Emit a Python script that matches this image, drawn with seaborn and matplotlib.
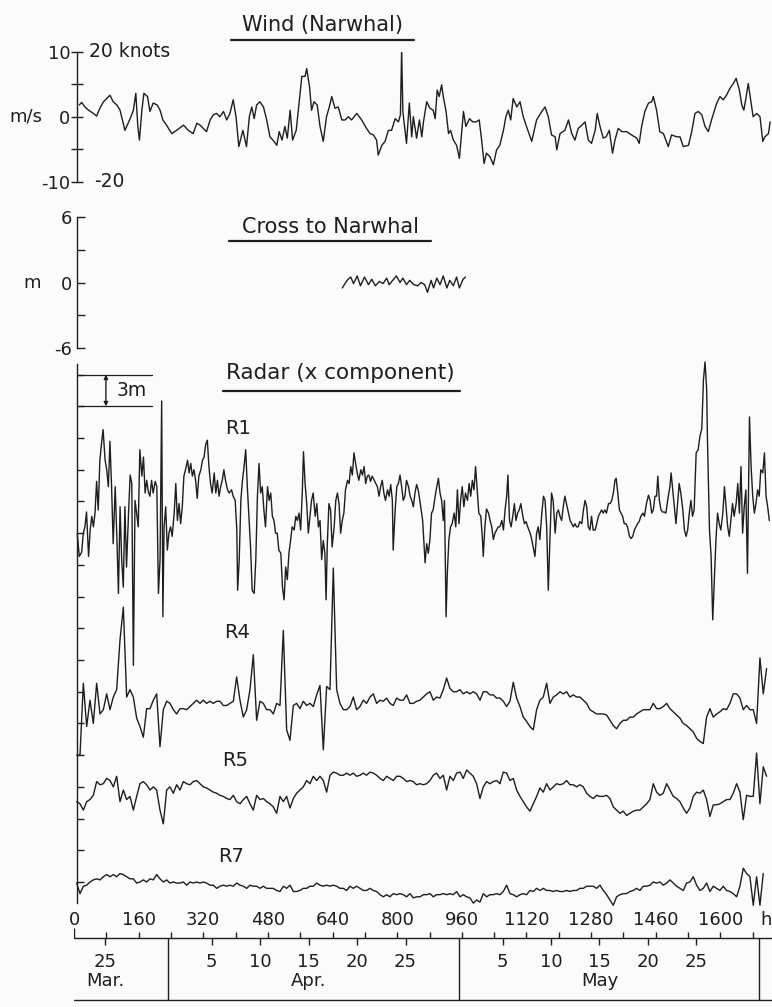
import numpy as np
import matplotlib
matplotlib.use("Agg")
import matplotlib.pyplot as plt
import seaborn as sns
from matplotlib.lines import Line2D

sns.set_style("white")
plt.rcParams['font.family'] = ['DejaVu Sans']

# ---------------- data (hours since start, values) ----------------
# Wind (Narwhal), m/s : (hour, value)
WIND = [(13,1.8),(19,2.2),(27,1.5),(36,1.0),(48,0.5),(56,0.1),(64,1.3),(73,2.3),(81,2.8),(89,3.3),
        (97,2.3),(106,1.8),(114,1.0),(126,-2.1),(139,-0.3),(147,1.0),(153,3.6),(158,-1.5),(162,-3.6),
        (168,1.0),(173,3.6),(182,3.1),(188,0.8),(196,2.1),(206,1.8),(213,1.0),(220,-0.5),(229,-1.3),
        (242,-2.6),(254,-2.1),(271,-1.3),(283,-2.1),(295,-2.6),(304,-1.0),(312,-1.3),(320,-1.8),
        (328,-2.3),(337,-0.5),(345,0.3),(353,0.5),(361,0.0),(370,0.8),(378,-0.5),(386,0.5),(394,2.6),
        (401,0.0),(408,-4.6),(418,-2.1),(427,-4.6),(434,0.0),(440,1.5),(446,-0.3),(452,1.8),(460,2.3),
        (469,1.5),(477,-0.5),(485,-3.1),(495,-3.8),(502,-4.4),(508,-2.3),(515,-3.6),(522,-1.5),
        (528,-3.3),(535,1.0),(541,-3.6),(550,-2.1),(558,2.6),(564,6.2),(572,6.2),(576,7.4),(583,4.6),
        (588,1.0),(594,2.3),(602,1.8),(609,-1.5),(617,-3.8),(625,0.0),(632,1.5),(638,3.1),(646,1.3),
        (654,1.5),(663,-0.5),(671,-0.5),(679,0.0),(687,-0.5),(700,0.5),(712,-0.5),(724,-1.8),
        (733,-2.6),(741,-2.8),(749,-3.6),(753,-5.9),(762,-4.4),(770,-3.8),(778,-2.1),(786,-2.1),
        (795,-0.3),(803,-0.8),(808,0.3),(811,10.3),(814,0.8),(823,-4.1),(830,2.1),(836,-3.1),
        (840,0.0),(848,-3.3),(855,-0.5),(861,-3.1),(865,-0.8),(873,2.3),(881,1.3),(889,1.0),
        (894,-0.3),(899,4.1),(904,3.1),(910,4.9),(914,3.1),(921,0.8),(927,-2.6),(932,-2.1),
        (939,-3.6),(947,-4.4),(954,-6.4),(960,-2.1),(964,0.8),(970,-1.5),(979,-0.3),(987,-0.8),
        (995,-0.8),(1003,-0.5),(1009,-3.6),(1015,-7.2),(1021,-5.6),(1030,-6.2),(1038,-7.4),
        (1046,-5.1),(1054,-4.4),(1063,-2.1),(1069,0.0),(1075,1.0),(1081,-0.5),(1087,2.8),(1096,1.5),
        (1104,2.3),(1112,0.0),(1120,-1.5),(1133,-3.8),(1145,-0.5),(1158,0.8),(1166,1.5),(1174,0.0),
        (1182,-2.8),(1191,-3.1),(1195,-5.1),(1203,-2.6),(1215,-2.1),(1224,-0.5),(1232,-2.6),
        (1240,-3.6),(1248,-1.8),(1257,-1.3),(1265,-0.8),(1273,-3.6),(1281,-4.1),(1290,-2.1),
        (1295,0.5),(1302,-1.5),(1310,-3.3),(1317,-3.1),(1325,-2.1),(1333,-5.6),(1339,-3.6),
        (1347,-1.8),(1356,-2.3),(1368,-2.3),(1380,-2.8),(1393,-3.3),(1399,-4.1),(1405,-1.5),
        (1413,0.8),(1422,2.1),(1430,2.3),(1434,3.1),(1442,1.0),(1450,-2.3),(1459,-2.6),(1471,-4.6),
        (1479,-2.8),(1492,-3.1),(1500,-3.1),(1508,-4.6),(1521,-4.4),(1529,-2.3),(1537,0.5),
        (1545,0.8),(1554,0.3),(1562,-1.5),(1570,-2.3),(1578,-0.5),(1591,2.1),(1599,3.1),(1607,2.6),
        (1615,3.3),(1624,4.4),(1632,5.1),(1639,5.9),(1647,4.1),(1653,1.8),(1658,1.0),(1663,2.8),
        (1669,5.1),(1675,2.6),(1681,0.0),(1690,0.5),(1698,0.0),(1705,-3.8),(1710,-3.1),(1719,-2.6),
        (1723,-0.8)]

# Cross to Narwhal, m : (hour, value)
CROSS = [(664,-0.5),(676,0.2),(685,0.5),(692,-0.1),(701,0.6),(709,-0.3),(719,0.5),(729,-0.2),
         (737,0.3),(746,-0.3),(756,0.1),(765,-0.1),(774,0.4),(780,-0.2),(789,0.2),(798,0.6),
         (807,0.0),(814,0.4),(823,-0.2),(831,0.2),(841,-0.2),(851,-0.3),(859,0.0),(868,-0.2),
         (875,-0.9),(884,0.2),(890,-0.5),(898,0.4),(906,-0.2),(914,0.6),(923,-0.5),(930,0.2),
         (939,-0.3),(947,0.5),(954,-0.5),(963,0.3),(969,0.5)]

# Radar R1, m : (hour, value)
R1 = [(8,-3.0),(13,-5.2),(19,-4.8),(23,-3.0),(27,-2.4),(31,-1.0),(36,-5.2),(40,-2.7),(44,-1.4),
      (48,-2.4),(52,-1.1),(56,1.9),(60,-0.8),(64,3.9),(69,5.8),(72,6.8),(77,3.9),(81,3.0),(85,1.4),
      (89,5.7),(93,1.4),(97,-4.0),(102,1.4),(106,-3.3),(110,-8.7),(114,-0.5),(118,-5.5),(122,-8.1),
      (126,-0.5),(130,-6.2),(135,-1.1),(139,2.5),(143,1.7),(147,-15.5),(151,0.1),(155,-1.1),
      (159,-2.4),(163,4.9),(168,2.4),(172,4.2),(176,0.8),(180,2.0),(184,0.9),(188,0.5),(192,2.0),
      (196,0.8),(201,1.9),(205,1.4),(209,-8.7),(213,-5.5),(217,9.5),(220,-10.9),(223,-2.4),
      (227,-0.5),(231,-4.6),(235,-3.0),(239,-2.4),(243,-3.3),(248,-1.1),(252,1.7),(256,-1.8),
      (260,-0.2),(264,-2.1),(268,-0.5),(272,2.4),(276,3.0),(281,3.9),(285,2.7),(289,3.6),(293,2.4),
      (297,3.0),(301,2.0),(305,0.3),(309,2.4),(314,3.0),(318,3.9),(322,4.2),(326,5.4),(330,5.8),
      (334,3.3),(338,1.7),(342,0.8),(347,2.7),(351,0.8),(355,2.0),(359,0.5),(363,1.4),(367,2.0),
      (371,3.0),(375,2.0),(380,1.1),(384,0.8),(390,1.1),(394,0.5),(399,0.1),(403,-2.7),(405,-8.4),
      (409,-5.5),(413,0.1),(417,2.0),(421,3.3),(425,4.9),(429,1.4),(433,-1.4),(437,-4.3),(441,-8.4),
      (446,-8.7),(450,-5.5),(454,0.5),(458,3.6),(462,0.8),(466,1.4),(470,-0.8),(474,-2.4),(479,1.4),
      (483,0.1),(487,0.8),(491,-1.4),(495,-1.8),(499,-3.0),(503,-3.0),(507,-4.6),(512,-4.9),
      (516,-8.1),(520,-9.3),(524,-6.2),(528,-7.4),(532,-4.9),(536,-3.7),(540,-2.4),(545,-2.7),
      (549,-1.4),(553,-1.8),(557,-1.1),(561,-2.7),(565,0.8),(568,4.7),(572,1.7),(576,-0.2),
      (580,-3.0),(584,-1.4),(588,0.1),(592,0.8),(597,-1.4),(601,-0.2),(605,-2.4),(609,-1.8),
      (613,-5.5),(617,-3.7),(621,-4.9),(624,-9.3),(627,-4.0),(631,-0.2),(635,-0.8),(639,-4.3),
      (644,-2.4),(648,0.1),(652,0.8),(656,-0.2),(660,-3.0),(664,-1.8),(668,-1.1),(672,1.1),
      (677,2.0),(681,1.7),(685,3.3),(689,2.5),(693,4.6),(697,3.6),(701,2.7),(705,2.0),(710,3.0),
      (714,2.5),(718,3.3),(722,1.7),(726,2.4),(730,2.5),(734,1.9),(738,2.4),(743,2.0),(747,1.7),
      (751,1.4),(755,0.5),(759,1.4),(763,2.0),(767,0.8),(771,0.1),(776,1.1),(780,0.5),(784,1.6),
      (788,0.1),(790,-4.6),(795,-0.8),(799,1.4),(803,1.7),(807,2.5),(811,1.4),(815,0.1),(819,0.5),
      (823,2.0),(828,1.4),(832,0.5),(836,0.1),(840,-0.5),(844,0.8),(848,1.6),(852,1.1),(856,0.1),
      (863,-1.8),(869,-5.8),(873,-4.0),(877,-4.9),(881,-3.6),(885,-1.1),(889,-0.8),(894,0.5),
      (898,1.4),(902,2.2),(906,0.8),(910,0.1),(914,-1.8),(917,0.1),(921,-10.9),(924,-6.8),
      (928,-3.6),(932,-2.4),(936,-2.1),(941,-1.1),(945,-2.4),(949,1.1),(953,-2.1),(957,0.1),
      (961,1.4),(965,-0.5),(969,0.8),(974,0.1),(978,1.7),(982,0.5),(986,2.0),(990,1.1),(994,3.3),
      (998,1.1),(1002,-1.1),(1007,-1.4),(1011,-3.6),(1013,-5.2),(1017,-2.4),(1021,-0.7),
      (1026,-1.1),(1030,-1.8),(1034,-2.4),(1038,-3.6),(1042,-3.0),(1046,-2.7),(1050,-2.4),
      (1054,-2.4),(1059,-1.8),(1063,-2.7),(1067,-0.8),(1071,0.5),(1074,2.5),(1078,-1.8),
      (1082,-2.4),(1086,-1.4),(1090,-0.2),(1094,-1.8),(1098,-1.1),(1102,-0.8),(1106,-0.2),
      (1111,-1.4),(1115,-2.1),(1119,-1.9),(1123,-2.4),(1129,-3.0),(1133,-3.6),(1137,-4.4),
      (1141,-5.2),(1145,-3.0),(1149,-2.4),(1153,-3.6),(1158,-1.1),(1162,0.5),(1166,0.1),
      (1170,-2.4),(1174,-8.4),(1178,-3.6),(1182,0.8),(1186,0.1),(1191,-3.0),(1195,-1.1),
      (1199,-0.8),(1203,-1.4),(1207,-1.8),(1211,-0.5),(1215,0.5),(1219,-0.2),(1224,-1.1),
      (1228,-1.8),(1232,-2.1),(1236,-2.4),(1240,-2.1),(1244,-2.4),(1248,-2.4),(1252,-1.9),
      (1257,-2.1),(1261,-0.8),(1265,0.1),(1269,-0.5),(1273,-2.4),(1277,-2.7),(1281,-1.4),
      (1285,-2.7),(1290,-2.7),(1294,-2.1),(1298,-1.4),(1302,-1.1),(1306,-0.8),(1310,-1.1),
      (1314,-0.8),(1318,-1.1),(1323,-0.2),(1327,-0.2),(1331,0.1),(1335,0.8),(1339,2.0),(1342,2.2),
      (1346,0.8),(1350,-0.8),(1354,-1.1),(1358,-1.4),(1362,-2.1),(1366,-2.1),(1370,-2.4),
      (1375,-3.3),(1379,-3.5),(1383,-3.3),(1387,-2.7),(1391,-2.4),(1395,-2.1),(1399,-1.9),
      (1403,-1.4),(1408,-1.1),(1412,-1.4),(1417,-0.2),(1422,0.6),(1426,0.1),(1430,-1.1),
      (1434,-0.8),(1438,0.5),(1442,0.5),(1445,2.4),(1449,0.1),(1453,-0.8),(1457,-1.0),(1461,-1.0),
      (1465,-1.1),(1471,0.5),(1475,1.4),(1478,2.7),(1482,1.1),(1486,-0.5),(1490,-2.1),(1494,-0.2),
      (1498,1.7),(1502,0.8),(1507,-0.8),(1511,-2.7),(1515,-3.3),(1519,-2.7),(1523,-1.1),
      (1527,0.1),(1531,-1.4),(1535,-0.8),(1540,4.6),(1545,4.9),(1549,6.1),(1554,6.9),(1558,11.5),
      (1562,13.2),(1566,10.6),(1568,5.8),(1573,-2.7),(1577,-5.2),(1581,-11.2),(1585,-7.4),
      (1589,-3.6),(1593,-1.1),(1597,-2.1),(1601,-2.7),(1606,-1.1),(1610,1.4),(1614,-0.5),
      (1618,-2.4),(1622,-3.3),(1626,-1.8),(1630,-0.2),(1634,-1.4),(1639,-0.2),(1643,1.7),
      (1647,-1.1),(1651,3.3),(1655,-3.0),(1659,-0.5),(1663,1.1),(1667,-6.8),(1672,8.0),(1676,3.3),
      (1680,0.5),(1684,-1.1),(1688,-0.2),(1692,1.1),(1696,0.5),(1700,3.0),(1705,2.7),(1709,4.6),
      (1713,0.5),(1717,-0.5),(1721,-1.8)]

# Radar R4, R5, R7 (m), read on a regular grid starting at GRID_T0 h, every GRID_DT h
GRID_T0 = 6.6
GRID_DT = 8.25
R4 = [-6.0,-6.0,0.8,-3.3,-0.8,-3.0,0.8,-2.1,-1.7,-0.2,
      -1.7,-0.5,0.2,4.9,8.0,-0.5,0.2,-0.5,-2.5,-3.3,
      -4.3,-1.6,-1.6,-0.8,-0.2,-5.2,-1.7,-0.9,-1.1,-1.7,
      -2.1,-1.6,-1.6,-1.7,-1.4,-1.1,-0.8,-1.1,-0.8,-1.1,
      -0.9,-1.1,-0.9,-0.9,-1.3,-1.3,-1.1,-0.9,1.4,-0.8,
      -2.4,-1.7,0.2,3.5,-2.7,-0.9,-1.1,-1.7,-1.7,-2.1,
      -1.1,-1.3,5.8,-3.6,-4.6,-1.3,-1.1,-1.6,-0.9,-1.3,
      -1.1,-1.4,-0.3,0.6,-5.5,0.5,0.2,11.7,0.2,-1.1,
      -1.7,-1.7,-1.4,-0.5,-1.7,-1.4,-0.8,-1.1,-0.5,-0.2,
      -1.1,-0.8,-0.9,-0.6,-1.1,-1.3,-0.6,-0.8,-0.8,-0.3,
      -1.1,-1.1,-0.9,
      -0.8,-0.5,-0.2,0.0,-0.8,-0.5,-0.6,0.2,1.3,0.3,
      0.0,0.0,0.2,-0.2,0.0,-0.2,0.0,-0.2,-0.8,0.0,
      0.0,-0.3,-0.3,-0.6,-0.6,-0.9,-1.4,-0.9,0.9,-0.6,
      -1.4,-2.4,-2.8,-3.3,-3.6,-1.7,-0.8,-0.5,0.8,-1.1,
      -0.5,-0.3,0.0,-0.2,0.0,-0.5,-0.3,-0.5,-0.5,-0.8,
      -1.1,-1.7,-1.9,-2.1,-2.1,-2.1,-2.2,-2.7,-3.2,-3.5,
      -3.0,-2.7,-2.7,-2.4,-2.4,-2.1,-1.9,-1.7,-1.7,-1.7,
      -1.1,-1.6,-1.6,-1.4,-1.1,-1.6,-1.9,-2.2,-2.5,-3.0,
      -3.2,-3.5,-3.8,-4.4,-4.7,-4.9,-2.4,-1.6,-2.4,-2.1,
      -1.9,-1.6,-1.7,-1.1,-0.2,-0.2,-0.6,-1.7,-1.3,-1.7,
      -1.7,-3.0,3.2,-0.2,2.2]
R5 = [-1.4,-1.6,-2.2,-1.4,-1.2,-0.8,0.5,0.2,0.3,0.8,
      0.6,0.0,1.0,-1.4,-0.3,-1.2,-0.9,-2.2,-0.9,0.3,
      0.5,0.2,-0.3,0.0,-0.3,-2.2,-3.5,-0.3,0.0,-0.6,
      0.2,-0.3,0.5,0.3,0.2,0.5,0.6,0.3,0.0,-0.1,
      -0.3,-0.5,-0.6,-0.8,-0.9,-1.1,-1.2,-0.8,-1.4,-1.6,
      -1.2,-0.9,-1.6,-2.2,-0.8,-1.2,-1.1,-1.4,-1.6,-1.9,
      -2.5,-0.9,-1.4,-0.9,-2.0,-1.1,-0.6,-0.3,0.0,0.6,
      0.3,1.0,0.6,1.0,0.6,-0.5,1.1,1.4,1.3,1.1,
      1.1,1.3,1.1,1.3,1.0,1.1,1.3,1.1,1.4,1.3,
      1.1,0.8,0.6,1.0,0.8,0.6,1.0,1.0,0.8,0.5,
      0.6,0.5,0.2,
      0.3,0.2,0.3,0.6,1.1,1.3,0.8,1.1,-0.3,1.0,
      0.6,1.3,1.4,0.8,1.6,1.3,1.0,0.3,-1.1,0.0,
      0.5,0.3,0.5,0.6,0.3,1.4,1.3,0.6,0.8,-0.3,
      -0.9,-1.4,-1.9,-2.3,-1.6,-0.9,-0.1,-0.5,0.3,-0.3,
      0.0,0.3,0.2,0.3,0.6,0.2,0.2,0.0,0.2,0.0,
      -0.6,-0.9,-1.1,-0.8,-0.9,-0.9,-0.8,-1.1,-1.9,-2.2,
      -2.5,-2.3,-2.7,-2.5,-2.3,-2.2,-2.2,-1.9,-1.6,-1.2,
      0.3,-0.5,-0.8,-0.6,0.3,-0.3,-0.9,-1.1,-1.4,-2.0,
      -2.5,-2.0,-0.9,-0.5,-0.6,-0.3,-1.2,-2.8,-1.7,-1.7,
      -1.6,-1.4,-1.2,-1.2,-0.6,0.3,-0.5,-3.1,-0.8,-0.9,
      -0.9,3.2,-1.6,1.9,1.0]
R7 = [-0.1,-1.1,-0.4,-0.3,0.0,0.2,0.3,0.2,0.5,0.7,
      0.5,0.7,0.5,0.8,0.7,0.5,0.3,0.3,-0.1,0.0,
      0.2,0.0,0.3,0.2,0.7,0.3,0.0,0.2,-0.1,0.0,
      -0.1,-0.1,0.0,-0.3,0.0,-0.1,0.0,-0.1,0.0,-0.1,
      -0.3,-0.3,-0.6,-0.4,-0.3,-0.4,-0.3,-0.4,-0.1,-0.3,
      -0.4,-0.6,-0.3,-0.4,-0.4,-0.6,-0.4,-0.6,-0.6,-0.6,
      -0.8,-0.9,-0.4,-0.6,-0.3,-0.9,-0.9,-0.8,-0.6,-0.6,
      -0.4,-0.4,-0.1,-0.3,-0.4,-0.3,-0.4,-0.3,-0.4,-0.6,
      -0.6,-0.8,-0.4,-0.6,-0.4,-0.6,-0.8,-0.8,-0.6,-0.8,
      -0.9,-1.2,-1.4,-1.2,-1.4,-1.1,-1.2,-1.1,-1.2,-1.4,
      -1.1,-1.5,-1.4,
      -1.4,-1.2,-1.2,-1.1,-1.4,-1.2,-1.2,-1.1,-1.2,-1.1,
      -1.2,-0.9,-1.4,-1.2,-1.4,-1.5,-2.0,-1.7,-1.9,-1.1,
      -1.4,-1.2,-1.2,-1.1,-1.2,-0.9,-0.3,-1.1,-1.2,-1.4,
      -1.2,-1.1,-1.2,-0.8,-0.9,-0.6,-0.8,-0.6,-0.8,-0.8,
      -0.9,-0.8,-0.9,-0.9,-0.8,-0.9,-0.8,-0.8,-0.6,-0.6,
      -0.4,-0.4,-0.4,-0.6,-0.3,-0.8,-1.2,-1.7,-2.2,-1.4,
      -1.2,-1.1,-1.1,-0.9,-0.8,-0.6,-0.8,-0.4,-0.4,-0.3,
      0.0,-0.1,0.0,-0.3,-0.1,0.2,-0.1,-0.4,-0.6,-0.8,
      -0.1,0.0,0.5,-0.3,-0.8,-0.6,-0.1,-0.9,-0.4,-0.6,
      -0.8,-0.4,-0.8,-0.9,-1.1,-1.4,-0.4,1.3,0.8,0.5,
      -2.2,0.5,-2.2,0.8]

# axis texts
HOUR_TICKS = [0, 160, 320, 480, 640, 800, 960, 1120, 1280, 1440, 1600]
HOUR_LABELS = ['0', '160', '320', '480', '640', '800', '960', '1120', '1280', '1460', '1600']
APR1_HOUR = 232.7          # hour at which April begins
MONTH_DAYS = {'Mar.': 31, 'Apr.': 30, 'May': 31}
DAY_MARKS = [('Mar.', 25), ('Apr.', 5), ('Apr.', 10), ('Apr.', 15), ('Apr.', 20), ('Apr.', 25),
             ('May', 5), ('May', 10), ('May', 15), ('May', 20), ('May', 25)]
MONTH_LABEL_DAY = {'Mar.': 25, 'Apr.': 15, 'May': 15}

# ---------------- layout / style ----------------
W, H = 772, 1007
BG = '#fbfbfb'
INK = '#1e1e1e'
PX_PER_H = 0.404
X0 = 74
XMAX = (W - X0) / PX_PER_H
SPINE_H = 8

fig = plt.figure(figsize=(W / 100, H / 100), dpi=100, facecolor=BG)


def add_ax(y_top, y_bot):
    ax = fig.add_axes([X0 / W, 1 - y_bot / H, (W - X0) / W, (y_bot - y_top) / H])
    ax.set_facecolor('none')
    ax.set_xlim(0, XMAX)
    return ax


def style_left(ax):
    for s in ('top', 'right', 'bottom'):
        ax.spines[s].set_visible(False)
    ax.spines['left'].set_position(('data', SPINE_H))
    ax.spines['left'].set_color(INK)
    ax.spines['left'].set_linewidth(1.0)
    ax.set_xticks([])
    ax.set_xlabel('')
    ax.set_ylabel('')


def hline_fig(x1, x2, y, lw=1.6):
    fig.add_artist(Line2D([x1 / W, x2 / W], [1 - y / H, 1 - y / H], color=INK, lw=lw,
                          transform=fig.transFigure))


def ftext(x, y, s, size, ha='center'):
    fig.text(x / W, 1 - y / H, s, ha=ha, va='center', fontsize=size, color=INK)


line_kw = dict(color=INK, linewidth=1.0, estimator=None, sort=False, legend=False)

# ---- Wind panel ----
ax_w = add_ax(51.7, 181.7)
wh, wv = zip(*WIND)
sns.lineplot(x=np.array(wh), y=np.array(wv), ax=ax_w, **line_kw)
ax_w.set_ylim(-10, 10)
style_left(ax_w)
ax_w.set_yticks([-10, 0, 10])
ax_w.set_yticklabels(['-10', '0', '10'])
ax_w.set_yticks([-5, 5], minor=True)
ax_w.tick_params(axis='y', which='both', direction='inout', length=8, width=1.0, color=INK,
                 labelsize=13, labelcolor=INK, pad=1, left=True)
ax_w.text(-119, 0, 'm/s', ha='center', va='center', fontsize=13, color=INK, clip_on=False)
ax_w.text(37, 10, '20 knots', ha='left', va='center', fontsize=13.5, color=INK, clip_on=False)
ax_w.text(49, -10, '-20', ha='left', va='center', fontsize=13.5, color=INK, clip_on=False)
ftext(322.5, 25, 'Wind (Narwhal)', 15)
hline_fig(231, 414, 39.5)

# ---- Cross panel ----
ax_c = add_ax(217, 348)
ch, cv = zip(*CROSS)
sns.lineplot(x=np.array(ch), y=np.array(cv), ax=ax_c, **line_kw)
ax_c.set_ylim(-6, 6)
style_left(ax_c)
ax_c.set_yticks([-6, 0, 6])
ax_c.set_yticklabels(['-6', '0', '6'])
ax_c.set_yticks([-3, 3], minor=True)
ax_c.tick_params(axis='y', which='both', direction='in', length=6, width=1.0, color=INK,
                 labelsize=13, labelcolor=INK, pad=4, left=True)
ax_c.text(-104, 0, 'm', ha='center', va='center', fontsize=13, color=INK, clip_on=False)
ftext(330, 227, 'Cross to Narwhal', 15)
hline_fig(229, 431, 241)

# ---- Radar panel ----
R_Y0 = 882.0         # pixel row of the 0 m tick
R_PX_PER_M = 10.57
r_top_px, r_bot_px = 340, 935
ax_r = add_ax(r_top_px, r_bot_px)
ax_r.set_ylim((R_Y0 - r_bot_px) / R_PX_PER_M, (R_Y0 - r_top_px) / R_PX_PER_M)
BASE = {'R1': 36, 'R4': 18, 'R5': 9, 'R7': 0}

r1h, r1v = zip(*R1)
sns.lineplot(x=np.array(r1h), y=np.array(r1v) + BASE['R1'], ax=ax_r, **line_kw)
for name, vals in (('R4', R4), ('R5', R5), ('R7', R7)):
    t = GRID_T0 + GRID_DT * np.arange(len(vals))
    sns.lineplot(x=t, y=np.array(vals) + BASE[name], ax=ax_r, **line_kw)

style_left(ax_r)
ax_r.spines['left'].set_bounds(-2, 49)
ax_r.set_yticks(np.arange(0, 49, 3))
ax_r.set_yticklabels([])
ax_r.tick_params(axis='y', direction='in', length=5, width=1.0, color=INK, left=True)
# 3 m scale marker
for m in (48, 45):
    ax_r.plot([SPINE_H, 193], [m, m], color=INK, lw=0.9)
ax_r.annotate('', xy=(79, 45), xytext=(79, 48),
              arrowprops=dict(arrowstyle='<|-|>', lw=1.0, color=INK, shrinkA=0, shrinkB=0,
                              mutation_scale=6))
ax_r.text(106, 46.5, '3m', ha='left', va='center', fontsize=13.5, color=INK)
ftext(340.5, 373, 'Radar (x component)', 15.5)
hline_fig(223, 460, 391)
ftext(225, 428, 'R1', 14, ha='left')
ftext(224, 632, 'R4', 14, ha='left')
ftext(222, 760, 'R5', 14, ha='left')
ftext(218, 857, 'R7', 14, ha='left')

# ---- time / date axis ----
ax_b = add_ax(900, 1007)
ax_b.set_ylim(1007, 900)   # y measured in pixel rows
ax_b.axis('off')
ax_b.plot([0, XMAX], [938, 938], color=INK, lw=1.0)
ax_b.plot([0, XMAX], [1000, 1000], color=INK, lw=1.0)
ax_b.vlines(np.arange(80, XMAX, 80), 932, 938, color=INK, lw=1.0)
ax_b.vlines([0], 928, 938, color=INK, lw=1.0)
for ht, lab in zip(HOUR_TICKS, HOUR_LABELS):
    ax_b.text(ht, 920, lab, ha='center', va='center', fontsize=13, color=INK)
ax_b.text(1713, 920, 'h', ha='center', va='center', fontsize=13, color=INK)

month_start = {'Mar.': APR1_HOUR - 24 * MONTH_DAYS['Mar.'], 'Apr.': APR1_HOUR}
month_start['May'] = APR1_HOUR + 24 * MONTH_DAYS['Apr.']
june1 = month_start['May'] + 24 * MONTH_DAYS['May']
ax_b.vlines([month_start['Apr.'], month_start['May'], june1], 938, 1000, color=INK, lw=1.0)
for mon, d in DAY_MARKS:
    hd = month_start[mon] + (d - 0.5) * 24
    ax_b.vlines([hd], 938, 945, color=INK, lw=1.0)
    ax_b.text(hd, 962, str(d), ha='center', va='center', fontsize=13, color=INK)
for mon, d in MONTH_LABEL_DAY.items():
    hd = month_start[mon] + (d - 0.5) * 24
    ax_b.text(hd, 981, mon, ha='center', va='center', fontsize=13, color=INK)

fig.savefig('out.png', dpi=100, facecolor=BG)
